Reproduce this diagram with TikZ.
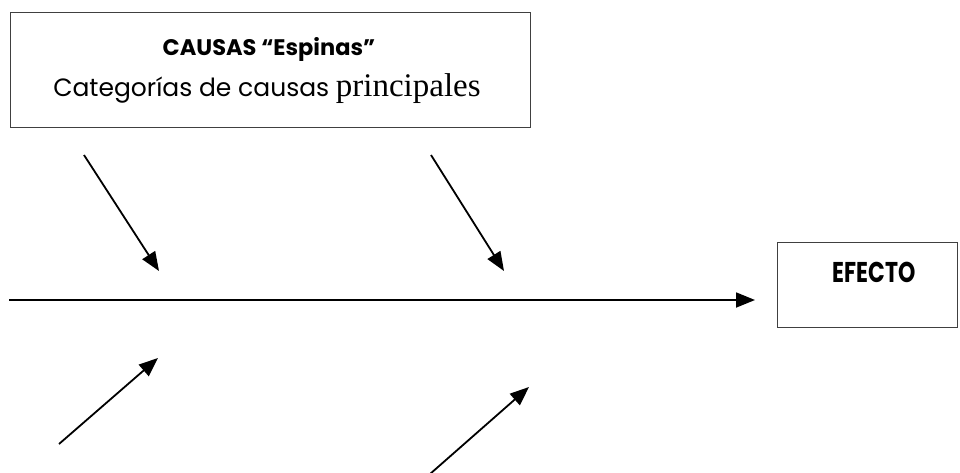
\documentclass[tikz,border=0pt]{standalone}
\usepackage{fontspec}
\setmainfont{Liberation Serif}
\newfontfamily\gothic{Poppins}
\usetikzlibrary{arrows.meta}
\tikzset{
  box/.style={draw=black!75, line width=1pt, fill=white, inner sep=0pt},
  bone/.style={line width=1.8pt, -{Triangle[length=19pt,width=15pt]}},
  spine/.style={line width=1.8pt, -{Triangle[length=19pt,width=15pt]}}
}
\begin{document}
\begin{tikzpicture}[x=1pt,y=-1pt]
\useasboundingbox (0,0) rectangle (960,472);
% causas box
\node[box, minimum width=520pt, minimum height=115pt] (causas) at (270,69.5) {};
\node[font=\gothic\bfseries\fontsize{22.5}{26}\selectfont, anchor=base] (t1) at (269,55) {CAUSAS “Espinas”};
\node[anchor=base, inner sep=0pt] (t2) at (267,96) {{\gothic\fontsize{25}{30}\selectfont Categorías de causas }{\fontsize{33}{38}\selectfont principales}};
% efecto box
\node[box, minimum width=180pt, minimum height=85pt] (efecto) at (867,284.5) {};
\node[font=\gothic\bfseries\fontsize{22}{26}\selectfont] (t3) at (874,272) {\scalebox{1}[1.3]{EFECTO}};
% spine
\coordinate (s0) at (9,300);
\coordinate (s1) at (755,300);
\draw[spine] (s0) -- (s1);
% bones
\coordinate (a0) at (84,155); \coordinate (a1) at (159,271);
\coordinate (b0) at (431,155); \coordinate (b1) at (504,271);
\coordinate (c0) at (59,444); \coordinate (c1) at (158,358);
\coordinate (d0) at (430,474); \coordinate (d1) at (529,387);
\draw[bone] (a0) -- (a1);
\draw[bone] (b0) -- (b1);
\draw[bone] (c0) -- (c1);
\draw[bone] (d0) -- (d1);
\end{tikzpicture}
\end{document}
